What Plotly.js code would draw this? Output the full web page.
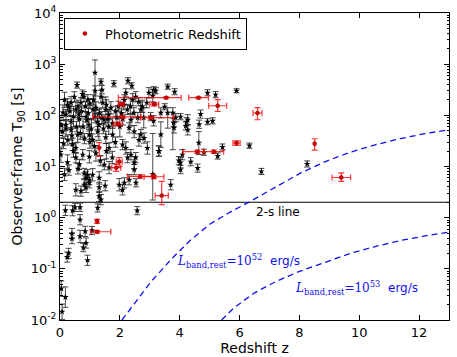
<!DOCTYPE html>
<html>
<head>
<meta charset="utf-8">
<script src="https://cdn.plot.ly/plotly-3.0.1.min.js"></script>
<style>
  html, body { margin: 0; padding: 0; background: #fff; }
  #plot { width: 457px; height: 357px; }
</style>
</head>
<body>
<div id="plot"></div>
<script>
// spectroscopic bursts: redshift, T90 [s], error up / down in dex
const blackZ = [
  0.18, 0.42, 0.5, 0.67, 0.67, 1.26, 2.58, 0.4, 0.4, 0.67, 0.84, 1.07, 0.87, 0.78, 0.29, 0.24, 0.92, 0.04, 0.18, 0.07,
  1.17, 0.57, 1.37, 1.8, 1.4, 2.27, 2.4, 3.6, 3.83, 4.93, 5.2, 5.9,
  1.17, 1.37, 0.8, 0.93, 0.7, 0.37, 0.3, 0.1, 0.2, 0.53, 0.63, 0.87, 1.1, 1.17, 1.43, 1.53, 1.63, 0.37, 0.03, 0.2, 0.77, 0.97, 1.3, 1.47, 1.63,
  2.2, 2.53, 3.13, 2.97, 3.1, 3.2, 2.9, 2.63, 2.43, 2.13, 3.37, 3.6, 3.03, 3.13, 2.7, 2.8, 2.47, 2.37, 4.03, 4.27, 3.8, 4.2,
  3.5, 3.77, 4.23, 4.27, 4.7, 4.93, 5.1, 3.87, 4.64, 4.81, 5.43, 5.27, 4.37, 4.6, 3.97, 4.03, 3.3, 3.37, 4.65,
  6.33, 6.73, 8.26,
  0.03, 0.26, 0.42, 0.53, 0.76, 0.98, 0.53, 0.59, 0.98, 1.09, 1.26, 1.53, 1.76, 1.64, 1.48, 1.64, 0.81, 0.92, 0.87, 0.98,
  0.98, 1.09, 0.81, 0.87, 0.53, 0.7, 1.31, 1.31, 1.51, 1.31, 1.37, 1.98, 0.2, 0.37, 0.09,
  2.31, 2.48, 2.7, 2.64, 2.81, 2.92, 3.1, 3.31, 3.81, 4.09, 4.03, 2.09, 2.2, 2.37, 2.26, 2.53, 2.48, 2.48, 2.31, 2.15, 2.54, 3.7, 2.09,
  0.15, 0.25, 0.33, 0.45, 0.48, 0.6, 0.65, 0.72, 0.75, 0.85, 0.9, 0.95, 1.0, 1.05, 1.12, 1.2, 1.25, 1.32, 1.4, 1.45,
  1.55, 1.6, 1.7, 1.75, 1.85, 1.9, 1.95, 2.0, 2.05, 2.1, 2.15, 2.25, 2.35, 2.6, 2.75, 0.4, 0.55, 0.68, 0.82, 1.0,
  1.15, 1.2, 1.35, 0.45, 0.65, 0.25, 0.12, 1.75, 1.85, 1.55, 0.3, 0.15, 0.6
];
const blackT = [
  1.39, 1.37, 1.59, 1.59, 0.91, 1.55, 1.37, 0.49, 0.39, 0.43, 0.54, 0.56, 0.32, 0.26, 0.2, 0.17, 0.147, 0.041, 0.028, 0.0145,
  680, 390, 450, 414, 316, 474, 378, 362, 289, 276, 253, 302,
  300, 231, 231, 202, 176, 176, 147, 113, 103, 129, 103, 94, 129, 94, 176, 129, 103, 75, 65, 65, 60, 65, 65, 82, 60,
  276, 231, 316, 276, 241, 302, 176, 184, 202, 161, 112, 112, 94, 78, 129, 90, 112, 82, 94, 82, 72, 62,
  147, 112, 75, 52, 106, 75, 78, 90, 29, 19, 24, 16, 12.4, 9.3, 13, 8.7, 20, 42, 67,
  25.5, 8.0, 11.2,
  17, 33, 27, 23, 17, 15.5, 14.9, 42, 42, 33, 48, 37, 42, 23, 10.8, 9.5, 7.3, 6.9, 6.0, 5.5,
  4.8, 6.9, 4.4, 3.9, 3.5, 3.3, 6.0, 3.9, 4.2, 2.6, 2.25, 4.4, 55, 52, 48,
  57, 48, 42, 33, 36, 23, 7, 20, 57, 17, 11.9, 26.7, 23, 17, 14.9, 14.9, 11.9, 8.7, 5.5, 4.8, 4.8, 4.4, 3.5,
  200, 160, 120, 95, 230, 150, 85, 120, 260, 150, 80, 110, 170, 55, 200, 140, 75, 110, 90, 55,
  160, 85, 140, 70, 120, 90, 150, 60, 110, 85, 200, 130, 150, 90, 150, 40, 60, 45, 35, 30,
  25, 18, 13, 20, 11, 12, 28, 15, 30, 20, 8.5, 7, 9
];
const blackErrUp = [
  0.1, 0.1, 0.08, 0.08, 0.1, 0.08, 0.08, 0.1, 0.1, 0.12, 0.1, 0.08, 0.1, 0.08, 0.1, 0.1, 0.1, 0.15, 0.2, 0.15,
  0.25, 0.06, 0.06, 0.06, 0.08, 0.06, 0.06, 0.05, 0.06, 0.06, 0.06, 0.04,
  0.1, 0.12, 0.1, 0.1, 0.1, 0.12, 0.1, 0.15, 0.1, 0.15, 0.1, 0.1, 0.2, 0.12, 0.1, 0.25, 0.1, 0.12, 0.15, 0.1, 0.2, 0.12, 0.3, 0.1, 0.15,
  0.08, 0.1, 0.06, 0.1, 0.12, 0.06, 0.1, 0.08, 0.12, 0.1, 0.1, 0.1, 0.08, 0.1, 0.15, 0.2, 0.1, 0.12, 0.06, 0.1, 0.08, 0.08,
  0.06, 0.1, 0.08, 0.1, 0.08, 0.06, 0.06, 0.08, 0.22, 0.06, 0.06, 0.06, 0.08, 0.08, 0.08, 0.08, 0.1, 0.25, 0.08,
  0.05, 0.06, 0.06,
  0.15, 0.1, 0.12, 0.1, 0.1, 0.12, 0.1, 0.15, 0.1, 0.12, 0.1, 0.12, 0.15, 0.1, 0.1, 0.12, 0.1, 0.1, 0.12, 0.1,
  0.1, 0.12, 0.1, 0.1, 0.12, 0.1, 0.12, 0.1, 0.1, 0.1, 0.1, 0.12, 0.15, 0.2, 0.12,
  0.1, 0.12, 0.1, 0.12, 0.1, 0.12, 0.8, 0.1, 0.1, 0.1, 0.1, 0.1, 0.12, 0.1, 0.1, 0.1, 0.12, 0.1, 0.1, 0.1, 0.08, 0.1, 0.1,
  0.15, 0.12, 0.1, 0.2, 0.1, 0.12, 0.15, 0.1, 0.08, 0.1, 0.15, 0.12, 0.1, 0.2, 0.1, 0.12, 0.15, 0.1, 0.12, 0.1,
  0.1, 0.15, 0.12, 0.1, 0.1, 0.15, 0.1, 0.2, 0.1, 0.12, 0.1, 0.1, 0.15, 0.1, 0.12, 0.15, 0.1, 0.12, 0.1, 0.12,
  0.1, 0.15, 0.1, 0.12, 0.1, 0.15, 0.1, 0.12, 0.1, 0.15, 0.1, 0.12, 0.1
];
const blackErrLo = [
  0.1, 0.1, 0.08, 0.08, 0.1, 0.08, 0.08, 0.1, 0.1, 0.12, 0.1, 0.08, 0.1, 0.08, 0.1, 0.1, 0.1, 0.15, 0.2, 0.15,
  0.79, 0.06, 0.06, 0.06, 0.08, 0.06, 0.06, 0.05, 0.06, 0.06, 0.06, 0.04,
  0.1, 0.12, 0.1, 0.1, 0.1, 0.12, 0.1, 0.15, 0.1, 0.15, 0.1, 0.1, 0.2, 0.12, 0.1, 0.25, 0.1, 0.12, 0.15, 0.1, 0.2, 0.12, 0.3, 0.1, 0.15,
  0.08, 0.1, 0.06, 0.1, 0.12, 0.06, 0.1, 0.08, 0.12, 0.1, 0.1, 0.3, 0.08, 0.1, 0.15, 0.2, 0.1, 0.12, 0.06, 0.1, 0.08, 0.08,
  0.06, 0.72, 0.08, 0.1, 0.08, 0.06, 0.06, 0.08, 0.23, 0.06, 0.06, 0.06, 0.08, 0.08, 0.08, 0.08, 0.1, 0.25, 0.08,
  0.05, 0.06, 0.06,
  0.15, 0.1, 0.12, 0.1, 0.1, 0.12, 0.1, 0.15, 0.1, 0.12, 0.1, 0.12, 0.15, 0.1, 0.1, 0.12, 0.1, 0.1, 0.12, 0.1,
  0.1, 0.12, 0.1, 0.1, 0.12, 0.1, 0.12, 0.1, 0.1, 0.1, 0.1, 0.12, 0.15, 0.2, 0.12,
  0.1, 0.12, 0.1, 0.12, 0.1, 0.12, 0.5, 0.1, 0.1, 0.1, 0.1, 0.1, 0.12, 0.1, 0.1, 0.1, 0.12, 0.1, 0.1, 0.1, 0.08, 0.1, 0.1,
  0.15, 0.12, 0.1, 0.2, 0.1, 0.12, 0.15, 0.1, 0.08, 0.1, 0.15, 0.12, 0.1, 0.2, 0.1, 0.12, 0.15, 0.1, 0.12, 0.1,
  0.1, 0.15, 0.12, 0.1, 0.1, 0.15, 0.1, 0.2, 0.1, 0.12, 0.1, 0.1, 0.15, 0.1, 0.12, 0.15, 0.1, 0.12, 0.1, 0.12,
  0.1, 0.15, 0.1, 0.12, 0.1, 0.15, 0.1, 0.12, 0.1, 0.15, 0.1, 0.12, 0.1
];

// photometric redshift bursts
const redZ  = [1.24, 1.24, 3.55, 4.63, 5.27, 6.6, 5.9, 8.51, 9.4, 4.59, 5.14, 2.09, 3.03, 1.93, 1.31, 1.98, 1.88, 2.68, 3.14, 3.4, 2.05, 3.15];
const redT  = [0.85, 0.53, 221, 221, 154, 111, 28.8, 27.9, 6.1, 19.5, 19.5, 93, 90, 68, 23.3, 12.4, 9.5, 6.4, 6.3, 2.7, 165, 165];
const redXm = [0, 0.21, 1.6, 0.33, 0.3, 0.15, 0.12, 0, 0.31, 0.47, 0.33, 1.0, 0.33, 0.15, 0, 0.1, 0.15, 0.42, 0.33, 0.22, 0.1, 0.15];
const redXp = [0, 0.46, 0.5, 0.33, 0.3, 0.15, 0.12, 0, 0.31, 0.2, 0.33, 0.6, 0.77, 0.15, 0, 0.1, 0.15, 0.4, 0.33, 0.22, 0.1, 0.15];
const redYm = [0.08, 0.03, 10, 10, 34, 29, 3, 7, 1.0, 1.5, 1.5, 6, 6, 6, 7.5, 2.5, 1.5, 0.5, 0.5, 0.9, 12, 12];
const redYp = [0.08, 0.03, 10, 10, 48, 30, 3, 7, 1.4, 1.5, 1.5, 6, 6, 6, 6, 2.5, 1.5, 0.5, 0.5, 2.4, 12, 12];

// luminosity limit curves
const curve52Z = [2.07, 2.53, 3.03, 3.7, 4.37, 5.03, 5.7, 6.37, 7.2, 8.03, 8.87, 9.7, 10.53, 11.37, 12.2, 13];
const curve52T = [0.01, 0.023, 0.055, 0.15, 0.37, 0.76, 1.3, 2.1, 3.9, 7.4, 12.5, 19, 26.5, 35, 44, 52];
const curve53Z = [5.4, 5.8, 6.5, 7.2, 8.0, 8.9, 9.7, 10.5, 11.4, 12.2, 13];
const curve53T = [0.01, 0.017, 0.034, 0.056, 0.089, 0.138, 0.2, 0.27, 0.36, 0.44, 0.52];

const twoSigmaT = 2;
const zMax = 13;

const font = 'DejaVu Sans, Arial, sans-serif';
const serif = 'DejaVu Serif, serif';

const blackPlus = blackT.map((t, i) => t * (Math.pow(10, blackErrUp[i]) - 1));
const blackMinus = blackT.map((t, i) => t * (1 - Math.pow(10, -blackErrLo[i])));

const traces = [
  {
    x: [0, zMax], y: [twoSigmaT, twoSigmaT],
    mode: 'lines', line: { color: 'black', width: 1.2 },
    showlegend: false, hoverinfo: 'skip'
  },
  {
    x: curve52Z, y: curve52T, mode: 'lines',
    line: { color: '#1010ee', width: 1.3, dash: '6px,4px' },
    showlegend: false
  },
  {
    x: curve53Z, y: curve53T, mode: 'lines',
    line: { color: '#1010ee', width: 1.3, dash: '6px,4px' },
    showlegend: false
  },
  {
    x: blackZ, y: blackT, mode: 'markers', type: 'scatter',
    marker: { color: 'black', size: 5, symbol: 'star' },
    error_y: { type: 'data', symmetric: false, array: blackPlus, arrayminus: blackMinus,
      color: 'rgba(30,30,30,0.8)', thickness: 1, width: 3 },
    showlegend: false
  },
  {
    x: redZ, y: redT, mode: 'markers', type: 'scatter',
    name: 'Photometric Redshift',
    marker: { color: '#e00000', size: 4, symbol: 'circle', line: { color: '#600', width: 0.5 } },
    error_x: { type: 'data', symmetric: false, array: redXp, arrayminus: redXm,
      color: 'rgba(255,0,0,0.8)', thickness: 1.2, width: 3 },
    error_y: { type: 'data', symmetric: false, array: redYp, arrayminus: redYm,
      color: 'rgba(255,0,0,0.8)', thickness: 1.2, width: 3 }
  }
];

const minorVals = [];
for (let e = -2; e < 4; e++) {
  for (let k = 2; k <= 9; k++) minorVals.push(k * Math.pow(10, e));
}

function lumLabel(exp) {
  return '<span style="font-family:' + serif + '"><i>L</i><sub>band,rest</sub>=10<sup>' + exp + '</sup></span>  erg/s';
}

const layout = {
  width: 457, height: 357,
  margin: { l: 60, r: 8, t: 13, b: 37 },
  paper_bgcolor: 'white', plot_bgcolor: 'white',
  font: { family: font, size: 13, color: 'black' },
  showlegend: true,
  legend: {
    x: 0.01, y: 0.985, xanchor: 'left', yanchor: 'top',
    bordercolor: 'black', borderwidth: 1, bgcolor: 'white',
    font: { family: font, size: 13 }
  },
  xaxis: {
    range: [0, zMax],
    tickvals: [0, 2, 4, 6, 8, 10, 12],
    ticks: 'inside', ticklen: 5, tickcolor: 'black',
    showline: true, linecolor: 'black', linewidth: 1, mirror: 'allticks',
    showgrid: false, zeroline: false,
    tickfont: { size: 13 },
    title: { text: 'Redshift z', font: { size: 14 }, standoff: 4 }
  },
  yaxis: {
    type: 'log', range: [-2, 4],
    tickvals: [0.01, 0.1, 1, 10, 100, 1000, 10000],
    ticktext: ['10<sup>-2</sup>', '10<sup>-1</sup>', '10<sup>0</sup>', '10<sup>1</sup>', '10<sup>2</sup>', '10<sup>3</sup>', '10<sup>4</sup>'],
    ticks: 'inside', ticklen: 5, tickcolor: 'black',
    minor: { tickvals: minorVals, ticks: 'inside', ticklen: 2.5, tickcolor: 'black', showgrid: false },
    showline: true, linecolor: 'black', linewidth: 1, mirror: 'allticks',
    showgrid: false, zeroline: false,
    tickfont: { size: 13 },
    title: { text: 'Observer-frame T<sub>90</sub> [s]', font: { size: 14 }, standoff: 4 }
  },
  annotations: [
    {
      x: 7.3, y: Math.log10(1.3), xref: 'x', yref: 'y',
      text: '2-s line', showarrow: false,
      font: { family: font, size: 12, color: 'black' }
    },
    {
      x: 5.97, y: Math.log10(0.14), xref: 'x', yref: 'y',
      text: lumLabel(52), showarrow: false,
      font: { family: font, size: 12, color: '#1010ee' }
    },
    {
      x: 9.9, y: Math.log10(0.043), xref: 'x', yref: 'y',
      text: lumLabel(53), showarrow: false,
      font: { family: font, size: 12, color: '#1010ee' }
    }
  ]
};

Plotly.newPlot('plot', traces, layout, { displayModeBar: false, staticPlot: true });
</script>
</body>
</html>
